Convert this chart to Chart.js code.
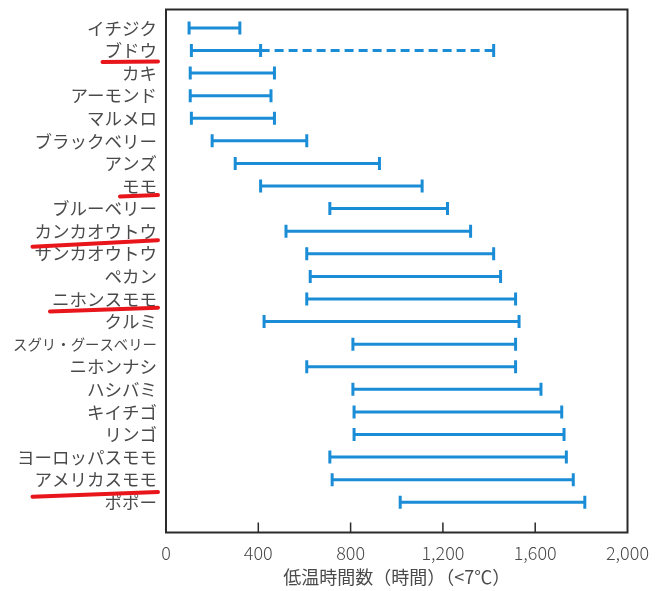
<!DOCTYPE html>
<html>
<head>
<meta charset="utf-8">
<script src="https://cdn.jsdelivr.net/npm/chart.js@4/dist/chart.umd.min.js"></script>
<style>
  html, body { margin: 0; padding: 0; background: #ffffff; }
  #c { display: block; }
</style>
</head>
<body>
<canvas id="c" width="664" height="591"></canvas>
<script>
// ---- data ----
const categories = [
  'イチジク', 'ブドウ', 'カキ', 'アーモンド', 'マルメロ', 'ブラックベリー', 'アンズ', 'モモ',
  'ブルーベリー', 'カンカオウトウ', 'サンカオウトウ', 'ペカン', 'ニホンスモモ', 'クルミ',
  'スグリ・グースベリー', 'ニホンナシ', 'ハシバミ', 'キイチゴ', 'リンゴ', 'ヨーロッパスモモ',
  'アメリカスモモ', 'ポポー'
];
const lowHours  = [100, 110, 105, 105, 110, 200, 300, 410, 710, 520, 610, 625, 610, 425, 810, 610, 810, 815, 815, 710, 720, 1015];
const highHours = [320, 410, 470, 455, 470, 610, 925, 1110, 1220, 1320, 1420, 1450, 1515, 1530, 1515, 1515, 1625, 1715, 1725, 1735, 1765, 1815];
// dashed extension (uncertain range)
const extCategories = ['ブドウ'];
const extHigh = [1420];
const xTickValues = [0, 400, 800, 1200, 1600, 2000];
const xTitle = '低温時間数（時間）（<7℃）';
const underlined = ['ブドウ', 'モモ', 'カンカオウトウ', 'ニホンスモモ', 'アメリカスモモ'];

// ---- styles ----
const BLUE = '#1b8dd6';
const TEXT = '#4a4a4a';
const FONT = "'Noto Sans CJK JP', 'Noto Sans', sans-serif";
const WEIGHT = 400;
const LABEL_SIZE = 17.5;
const Y_PAD = 9;
// underline offsets [left dy, right dy] relative to the row centre
const underlineOffsets = {
  'ブドウ': [11.5, 11], 'モモ': [10.5, 9], 'カンカオウトウ': [15.5, 9],
  'ニホンスモモ': [12.5, 8.7], 'アメリカスモモ': [17, 12.4]
};

function labelFontSize(name) {
  return name === 'スグリ・グースベリー' ? 14.4 : LABEL_SIZE;
}

const capStyle = {
  borderColor: BLUE, borderWidth: 3, borderCapStyle: 'butt',
  pointStyle: 'line', pointRotation: 90, pointRadius: 6.5, pointHoverRadius: 6.5,
  pointBorderColor: BLUE, pointBorderWidth: 3, pointBackgroundColor: BLUE,
  showLine: true, fill: false
};

const datasets = categories.map((name, i) => Object.assign({
  label: name,
  data: [{ x: lowHours[i], y: i }, { x: highHours[i], y: i }]
}, capStyle));

extCategories.forEach((name, k) => {
  const i = categories.indexOf(name);
  datasets.push(Object.assign({}, capStyle, {
    label: name + '（延長）',
    data: [{ x: highHours[i], y: i }, { x: extHigh[k], y: i }],
    borderDash: [9, 5],
    pointRadius: [0, 6.5]
  }));
});

const framePlugin = {
  id: 'framePlugin',
  afterDraw(chart) {
    const { ctx, chartArea: a, scales } = chart;
    const xs = scales.x, ys = scales.y;
    ctx.save();
    // frame
    ctx.strokeStyle = '#2a2a2a';
    ctx.lineWidth = 2;
    ctx.strokeRect(a.left, a.top, a.right - a.left, a.bottom - a.top);
    // inner tick marks
    ctx.lineWidth = 1.5;
    xTickValues.slice(1, -1).forEach(v => {
      const px = xs.getPixelForValue(v);
      ctx.beginPath();
      ctx.moveTo(px, a.bottom);
      ctx.lineTo(px, a.bottom - 10);
      ctx.stroke();
    });
    // red underlines under selected labels
    ctx.strokeStyle = '#e8151b';
    ctx.lineWidth = 4;
    ctx.lineCap = 'round';
    underlined.forEach(name => {
      const i = categories.indexOf(name);
      const py = ys.getPixelForValue(i);
      ctx.font = WEIGHT + ' ' + labelFontSize(name) + 'px ' + FONT;
      const w = ctx.measureText(name).width;
      const right = ys.right - Y_PAD;
      const left = right - w;
      const off = underlineOffsets[name];
      ctx.beginPath();
      ctx.moveTo(left - 2, py + off[0]);
      ctx.lineTo(right + 1, py + off[1]);
      ctx.stroke();
    });
    ctx.restore();
  }
};

new Chart(document.getElementById('c'), {
  type: 'scatter',
  data: { datasets },
  options: {
    responsive: false,
    animation: false,
    devicePixelRatio: 1,
    layout: { padding: { top: 0, right: 36.5, left: 0, bottom: 0 } },
    plugins: { legend: { display: false }, tooltip: { enabled: false } },
    scales: {
      x: {
        type: 'linear',
        min: 0, max: 2000,
        afterBuildTicks(scale) { scale.ticks = xTickValues.map(v => ({ value: v })); },
        afterFit(scale) { scale.height = 58.5; },
        grid: { display: false, drawTicks: false },
        border: { display: false },
        ticks: {
          padding: 10,
          color: TEXT,
          font: { family: FONT, size: 18, weight: 300 },
          callback: v => Number(v).toLocaleString('en-US')
        },
        title: {
          display: true,
          text: xTitle,
          color: TEXT,
          font: { family: FONT, size: 18, weight: WEIGHT },
          padding: { top: 0, bottom: 3 }
        }
      },
      y: {
        type: 'linear',
        reverse: true,
        min: -0.8165, max: 22.34,
        afterBuildTicks(scale) { scale.ticks = categories.map((c, i) => ({ value: i })); },
        afterFit(scale) { scale.width = 166; scale.paddingTop = 3; scale.paddingBottom = 0; },
        grid: { display: false, drawTicks: false },
        border: { display: false },
        ticks: {
          padding: Y_PAD,
          color: TEXT,
          autoSkip: false,
          font: ctx => ({ family: FONT, size: labelFontSize(categories[ctx.tick ? ctx.tick.value : 0]), weight: WEIGHT }),
          callback: v => categories[v]
        }
      }
    }
  },
  plugins: [framePlugin]
});
</script>
</body>
</html>
